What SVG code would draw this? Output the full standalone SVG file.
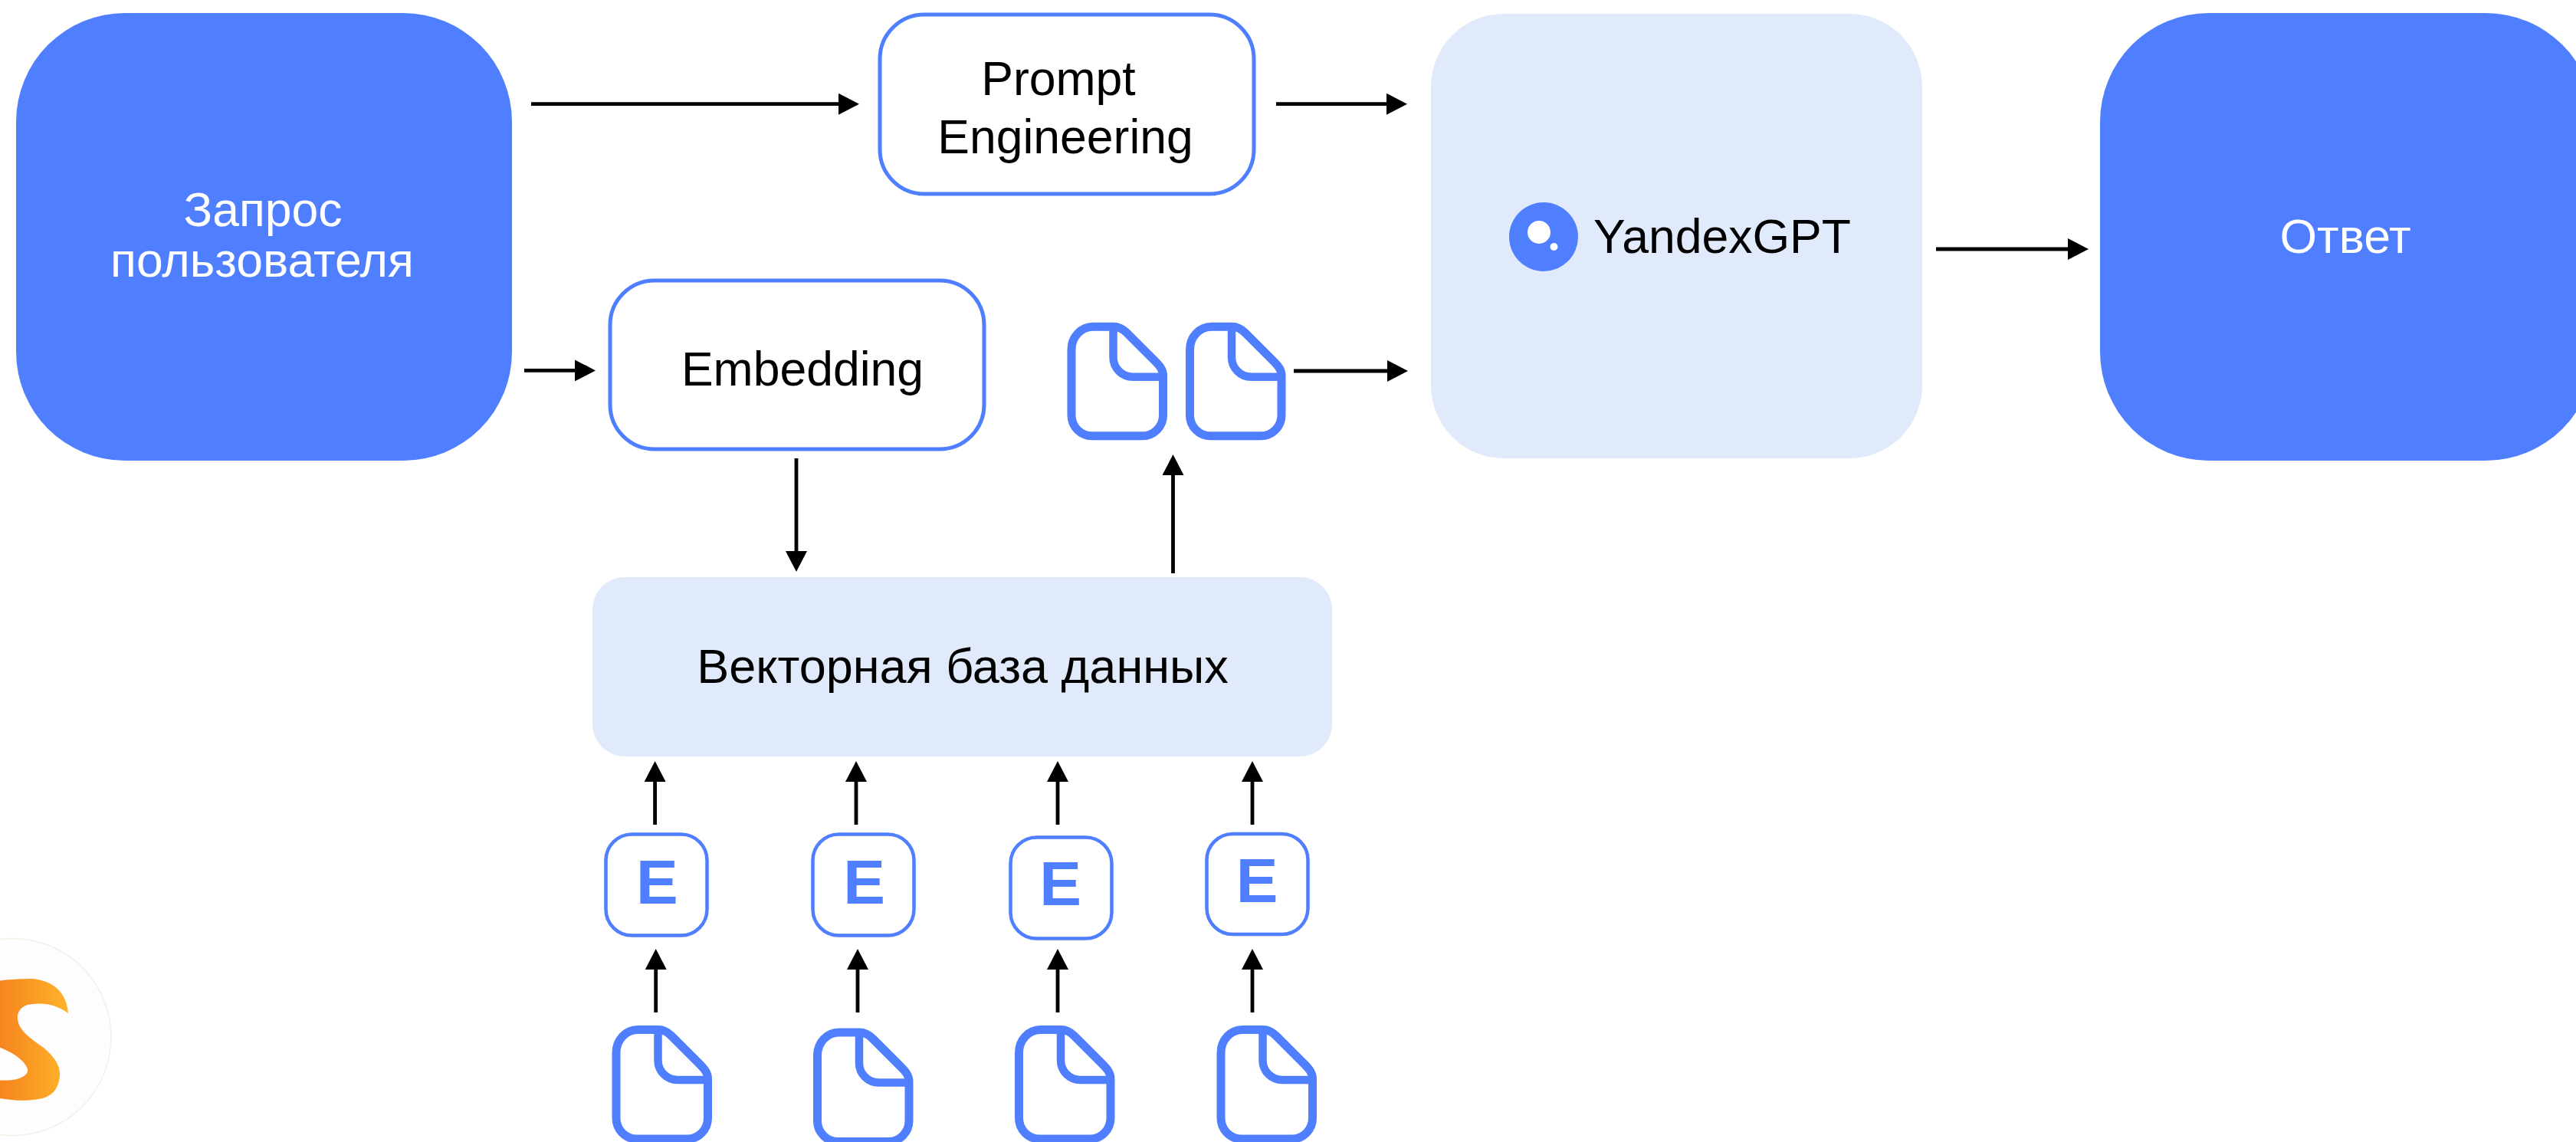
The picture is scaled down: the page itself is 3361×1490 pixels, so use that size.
<svg xmlns="http://www.w3.org/2000/svg" xmlns:xlink="http://www.w3.org/1999/xlink" width="3361" height="1490" viewBox="0 0 3361 1490">
<style>
text{font-family:"Liberation Sans",Arial,sans-serif;font-size:62.500px;fill:#000;text-anchor:middle}
.w{fill:#fff}
.solid{fill:#4f7fff}
.pale{fill:#e1eafa}
.outline{fill:#fff;stroke:#4f7fff;stroke-width:5}
.chip{fill:#fff;stroke:#4f7fff;stroke-width:4.500}
.e{fill:#4f7fff;font-weight:700;font-size:82px}
.doc{fill:#fff;stroke:#4f7fff;stroke-width:11;stroke-linejoin:round}
.fold{fill:none;stroke:#4f7fff;stroke-width:10.500}
.arrow{fill:none;stroke:#000;stroke-width:4.800;marker-end:url(#head)}
</style>
<defs>
<marker id="head" markerUnits="userSpaceOnUse" markerWidth="27" markerHeight="28" viewBox="0 0 27 28" refX="1" refY="14" orient="auto"><path d="M0 0L27 14L0 28Z" fill="#000"/></marker>
<linearGradient id="logoGrad" gradientUnits="userSpaceOnUse" x1="0" y1="0" x2="90" y2="0"><stop offset="0" stop-color="#f6851f"/><stop offset="1" stop-color="#fdb42a"/></linearGradient>
<g id="docIcon"><path class="doc" d="M28 0H55C61 0 67 3 72 8L108 44C115 51 119.500 56 119.500 64V115.500A27 27 0 0 1 92.500 142.500H27A27 27 0 0 1 0 115.500V30A28 30 0 0 1 28 0Z"/><path class="fold" d="M54.500 0V40A25.500 25.500 0 0 0 80 65.500H119.500"/></g>
</defs>
<rect width="3361" height="1490" fill="#fff"/>
<g id="connectors">
<line class="arrow" x1="693" y1="135.700" x2="1095" y2="135.700"/>
<line class="arrow" x1="1665" y1="135.700" x2="1810" y2="135.700"/>
<line class="arrow" x1="684" y1="483.400" x2="751" y2="483.400"/>
<line class="arrow" x1="1688" y1="484" x2="1811" y2="484"/>
<line class="arrow" x1="2526" y1="325" x2="2699" y2="325"/>
<line class="arrow" x1="1039" y1="598" x2="1039" y2="720"/>
<line class="arrow" x1="1530.500" y1="748" x2="1530.500" y2="619"/>
<line class="arrow" x1="854.600" y1="1076" x2="854.600" y2="1019"/>
<line class="arrow" x1="1117" y1="1076" x2="1117" y2="1019"/>
<line class="arrow" x1="1380" y1="1076" x2="1380" y2="1019"/>
<line class="arrow" x1="1634" y1="1076" x2="1634" y2="1019"/>
<line class="arrow" x1="855.700" y1="1321" x2="855.700" y2="1264"/>
<line class="arrow" x1="1119" y1="1321" x2="1119" y2="1264"/>
<line class="arrow" x1="1380" y1="1321" x2="1380" y2="1264"/>
<line class="arrow" x1="1634" y1="1321" x2="1634" y2="1264"/>
</g>
<g id="node-query"><rect class="solid" x="21" y="17" width="647" height="584" rx="142"/><text class="w" x="343" y="295">Запрос</text><text class="w" x="342" y="361">пользователя</text></g>
<g id="node-prompt"><rect class="outline" x="1148" y="19" width="488" height="234" rx="58"/><text x="1381" y="124">Prompt</text><text x="1390" y="200">Engineering</text></g>
<g id="node-gpt"><rect class="pale" x="1867" y="18" width="641" height="580" rx="95"/><circle class="solid" cx="2014" cy="309" r="45"/><circle cx="2008" cy="303" r="15" fill="#fff"/><circle cx="2027.500" cy="322" r="5" fill="#fff"/><text x="2247" y="330">YandexGPT</text></g>
<g id="node-answer"><rect class="solid" x="2740" y="17" width="645" height="584" rx="142"/><text class="w" x="3060" y="330">Ответ</text></g>
<g id="node-embedding"><rect class="outline" x="796" y="366" width="488" height="220" rx="58"/><text x="1047" y="503">Embedding</text></g>
<g id="node-db"><rect class="pale" x="773" y="753" width="965" height="234" rx="42"/><text x="1256" y="891" style="font-size:63px">Векторная база данных</text></g>
<g id="node-retrieved-1"><use xlink:href="#docIcon" x="1398" y="426.200"/></g>
<g id="node-retrieved-2"><use xlink:href="#docIcon" x="1552.500" y="426.200"/></g>
<g id="node-e1"><rect class="chip" x="790.500" y="1088.500" width="132" height="132" rx="34"/><text class="e" x="857.300" y="1179">E</text></g>
<g id="node-e2"><rect class="chip" x="1060.500" y="1088.500" width="132" height="132" rx="34"/><text class="e" x="1127.500" y="1179">E</text></g>
<g id="node-e3"><rect class="chip" x="1318.500" y="1092.500" width="132" height="132" rx="34"/><text class="e" x="1383.500" y="1181">E</text></g>
<g id="node-e4"><rect class="chip" x="1574.500" y="1088" width="132" height="131" rx="34"/><text class="e" x="1640" y="1177">E</text></g>
<g id="node-doc1"><use xlink:href="#docIcon" x="804" y="1343.500"/></g>
<g id="node-doc2"><use xlink:href="#docIcon" x="1066.500" y="1347"/></g>
<g id="node-doc3"><use xlink:href="#docIcon" x="1329.500" y="1343.500"/></g>
<g id="node-doc4"><use xlink:href="#docIcon" x="1593" y="1343.500"/></g>
<g id="logo"><circle cx="16.500" cy="1353" r="128.500" fill="#fdfdfd" stroke="#f6eee6" stroke-width="1.500"/><path fill="url(#logoGrad)" d="M-5 1280C10 1278 30 1277 43 1277C70 1280 87 1295 89 1322C75 1312 60 1308 45 1310C28 1310 22 1320 23 1330C25 1345 40 1355 57 1367C70 1378 79 1390 78 1403C77 1420 68 1432 50 1434C35 1437 15 1436 -5 1432V1409C5 1410 17 1410 25 1407C33 1404 37 1400 36 1395C32 1383 15 1372 -5 1365Z"/></g>
</svg>
